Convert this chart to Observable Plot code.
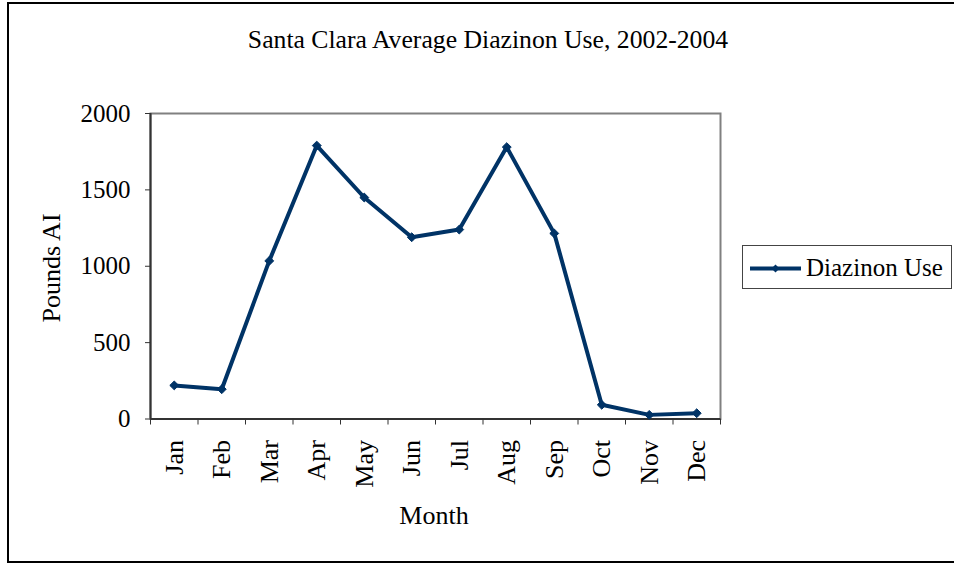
<!DOCTYPE html>
<html>
<head>
<meta charset="utf-8">
<script src="https://cdn.jsdelivr.net/npm/d3@7"></script>
<script src="https://cdn.jsdelivr.net/npm/@observablehq/plot@0.6"></script>
<style>
  html, body { margin: 0; padding: 0; background: #fff; overflow: hidden; }
  #wrap { position: relative; width: 954px; height: 563px; overflow: hidden; font-family: "Liberation Serif", "Times New Roman", serif; }
  #border { position: absolute; left: 7px; top: 2px; width: 1000px; height: 561px; border: 2px solid #000; box-sizing: border-box; pointer-events: none; }
  #chart { position: absolute; left: 0; top: 0; }
  #overlay { position: absolute; left: 0; top: 0; }
</style>
</head>
<body>
<div id="wrap">
  <div id="chart"></div>
  <svg id="overlay" width="954" height="563"></svg>
  <div id="border"></div>
</div>
<script>
// ---- Data ----
const months = ["Jan", "Feb", "Mar", "Apr", "May", "Jun", "Jul", "Aug", "Sep", "Oct", "Nov", "Dec"];
const diazinonUse = [220, 195, 1035, 1790, 1450, 1190, 1240, 1780, 1215, 93, 27, 38];
const yTicks = [0, 500, 1000, 1500, 2000];
const titleText = "Santa Clara Average Diazinon Use, 2002-2004";
const yLabel = "Pounds AI";
const xLabel = "Month";
const seriesName = "Diazinon Use";

const navy = "#003366";
const data = months.map((m, i) => ({i, month: m, value: diazinonUse[i]}));
const monthIdx = months.map((m, i) => i);
const boundaries = d3.range(-0.5, months.length, 1);

const plot = Plot.plot({
  width: 954,
  height: 563,
  marginLeft: 150,
  marginRight: 234,
  marginTop: 113,
  marginBottom: 144.5,
  style: {fontFamily: "Liberation Serif, 'Times New Roman', serif", fontSize: "25px", background: "transparent", color: "#000"},
  x: {type: "linear", domain: [-0.5, months.length - 0.5]},
  y: {domain: [0, 2000]},
  marks: [
    Plot.frame({stroke: "#808080", strokeWidth: 2}),
    Plot.ruleX([-0.5], {stroke: "#333", strokeWidth: 2}),
    Plot.ruleY([0], {stroke: "#333", strokeWidth: 2}),
    Plot.axisY({ticks: yTicks, tickFormat: (d) => String(d), tickSize: 5, tickPadding: 15, fontSize: 25, label: null, stroke: "#333"}),
    Plot.axisX({ticks: boundaries, tickFormat: () => "", tickSize: 6, label: null, stroke: "#333"}),
    Plot.axisX({ticks: monthIdx, tickFormat: (i) => months[i], tickSize: 0, tickPadding: 21, tickRotate: -90, fontSize: 26, label: null}),
    Plot.line(data, {x: "i", y: "value", stroke: navy, strokeWidth: 4, strokeLinejoin: "round"}),
    Plot.dot(data, {x: "i", y: "value", symbol: "diamond2", r: 4, fill: navy, stroke: navy, strokeWidth: 1})
  ]
});
document.getElementById("chart").appendChild(plot);

// ---- Titles and legend ----
const ov = d3.select("#overlay").style("font-family", "Liberation Serif, 'Times New Roman', serif");
ov.append("text").attr("x", 488).attr("y", 48).attr("text-anchor", "middle")
  .attr("font-size", 25.7).attr("fill", "#000").text(titleText);
ov.append("text").attr("transform", "translate(60,268) rotate(-90)").attr("text-anchor", "middle")
  .attr("font-size", 26).attr("fill", "#000").text(yLabel);
ov.append("text").attr("x", 434).attr("y", 524).attr("text-anchor", "middle")
  .attr("font-size", 26).attr("fill", "#000").text(xLabel);

const lg = ov.append("g");
lg.append("rect").attr("x", 742.5).attr("y", 245.5).attr("width", 209).attr("height", 43)
  .attr("fill", "#fff").attr("stroke", "#444").attr("stroke-width", 1);
lg.append("line").attr("x1", 750).attr("x2", 801).attr("y1", 268.5).attr("y2", 268.5)
  .attr("stroke", navy).attr("stroke-width", 4);
lg.append("path").attr("d", d3.symbol(d3.symbolDiamond2, 40)()).attr("transform", "translate(775.5,268.5)")
  .attr("fill", navy);
lg.append("text").attr("x", 806).attr("y", 276).attr("font-size", 25).attr("fill", "#000").text(seriesName);
</script>
</body>
</html>
